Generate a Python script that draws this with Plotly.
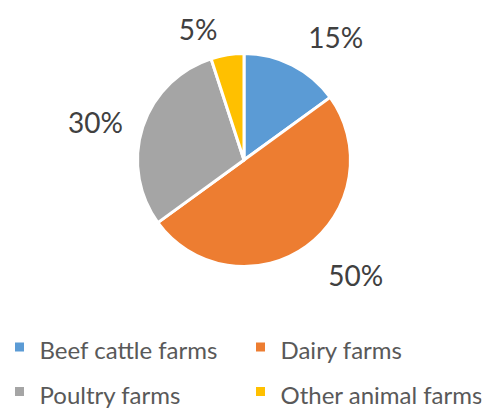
import plotly.graph_objects as go

categories = ["Beef cattle farms", "Dairy farms", "Poultry farms", "Other animal farms"]
values = [15, 50, 30, 5]
colors = ["#5B9BD5", "#ED7D31", "#A5A5A5", "#FFC000"]

W, H = 491, 408
OFF = 8                      # page body margin seen in the screenshot
B = 100                      # bottom margin reserved for the legend
PH = H - B                   # plot-area height

# target pie geometry (screen pixels)
cx, cy, r = 244 - OFF, 160 - OFF, 106.5
r_lab = 116                  # base radius of the ring that carries the % labels
lab_pull = [0.06, 0.11, 0.02, 0.0]   # per-label radial offset (fraction of r_lab)


def dom(rad):
    return dict(x=[(cx - rad) / W, (cx + rad) / W],
                y=[1 - (cy + rad) / PH, 1 - (cy - rad) / PH])


legend_labels = [f'<span style="font-size:24px">{c}</span>' for c in categories]

fig = go.Figure()
# the visible pie
fig.add_trace(go.Pie(
    labels=legend_labels,
    values=values,
    sort=False,
    direction="clockwise",
    rotation=0,
    marker=dict(colors=colors, line=dict(color="white", width=3)),
    textinfo="none",
    domain=dom(r),
    hoverinfo="skip",
))
# transparent ring used only to place the percentage labels further out
fig.add_trace(go.Pie(
    labels=legend_labels,
    values=values,
    sort=False,
    direction="clockwise",
    rotation=0,
    pull=lab_pull,
    marker=dict(colors=["rgba(0,0,0,0)"] * len(values), line=dict(width=0)),
    texttemplate="%{percent:.0%}",
    textposition="outside",
    outsidetextfont=dict(size=28, color="#404040", family="Lato"),
    domain=dom(r_lab * (1 + max(lab_pull))),
    hoverinfo="skip",
    showlegend=False,
))

fig.update_layout(
    width=W, height=H,
    margin=dict(l=0, r=0, t=0, b=B, autoexpand=False),
    paper_bgcolor="white",
    showlegend=True,
    legend=dict(
        orientation="h",
        x=-8.5 / W, xanchor="left",
        y=-(311.7 - PH) / PH, yanchor="top",
        entrywidth=196, entrywidthmode="pixels",
        font=dict(size=32, color="#595959", family="Lato"),
        itemwidth=30,
        traceorder="normal",
    ),
)

fig.write_html("out.html")
